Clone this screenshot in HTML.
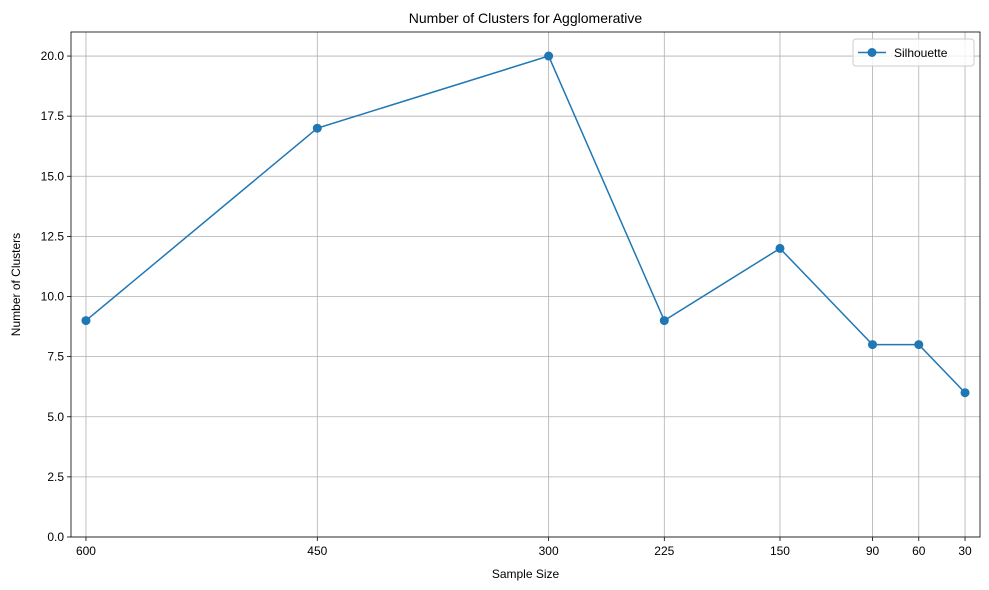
<!DOCTYPE html>
<html><head><meta charset="utf-8">
<style>
html,body{margin:0;padding:0;background:#fff;}
svg{display:block;font-family:"Liberation Sans","DejaVu Sans",sans-serif;}
</style></head>
<body>
<svg id="chart" width="989" height="590"></svg>
<script>
const sampleSizes = [600, 450, 300, 225, 150, 90, 60, 30];
const silhouetteClusters = [9, 17, 20, 9, 12, 8, 8, 6];
const yTicks = [0, 2.5, 5, 7.5, 10, 12.5, 15, 17.5, 20];
const yTickLabels = ["0.0","2.5","5.0","7.5","10.0","12.5","15.0","17.5","20.0"];

const L=71, R=980, T=32, B=537;
const xMin=609.7, xMax=20.3, yMin=0, yMax=21.0;
function sx(v){return L+(v-xMin)/(xMax-xMin)*(R-L);}
function sy(v){return B-(v-yMin)/(yMax-yMin)*(B-T);}
const NS="http://www.w3.org/2000/svg";
const svg=document.getElementById('chart');
function el(tag,attrs,parent){const e=document.createElementNS(NS,tag);for(const k in attrs)e.setAttribute(k,attrs[k]);(parent||svg).appendChild(e);return e;}

// grid
sampleSizes.forEach(v=>{
  const g=el('line',{x1:sx(v),x2:sx(v),y1:T,y2:B,stroke:'#b0b0b0','stroke-width':0.8});
  
  
  const t=el('line',{x1:sx(v),x2:sx(v),y1:B,y2:B+4,stroke:'#000','stroke-width':0.8});
  
  
  const l=el('text',{x:sx(v),y:B+18,'text-anchor':'middle','font-size':12,fill:'#000'});
  l.textContent=v;
  
  
});
yTicks.forEach((v,i)=>{
  const g=el('line',{x1:L,x2:R,y1:sy(v),y2:sy(v),stroke:'#b0b0b0','stroke-width':0.8});
  
  
  const t=el('line',{x1:L-4,x2:L,y1:sy(v),y2:sy(v),stroke:'#000','stroke-width':0.8});
  
  
  const l=el('text',{x:L-7,y:sy(v)+4,'text-anchor':'end','font-size':12,fill:'#000'});
  l.textContent=yTickLabels[i];
  
  
});
// frame
const fr=el('rect',{x:L,y:T,width:R-L,height:B-T,fill:'none',stroke:'#000','stroke-width':0.8});



// series
const pts=sampleSizes.map((v,i)=>sx(v)+','+sy(silhouetteClusters[i])).join(' ');
const line=el('polyline',{points:pts,fill:'none',stroke:'#1f77b4','stroke-width':1.5});


sampleSizes.forEach((v,i)=>{
  const c=el('circle',{cx:sx(v),cy:sy(silhouetteClusters[i]),r:4.5,fill:'#1f77b4'});
  
  
});

// titles
const title=el('text',{x:(L+R)/2,y:23,'text-anchor':'middle','font-size':14,fill:'#000'});
title.textContent='Number of Clusters for Agglomerative';


const xt=el('text',{x:(L+R)/2,y:578,'text-anchor':'middle','font-size':12,fill:'#000'});
xt.textContent='Sample Size';


const yt=el('text',{x:0,y:0,'text-anchor':'middle','font-size':12,fill:'#000',transform:'translate(20,'+((T+B)/2)+') rotate(-90)'});
yt.textContent='Number of Clusters';



// legend
const lg=el('g',{});


el('rect',{x:853,y:39,width:121,height:27,rx:3,fill:'#fff','fill-opacity':0.8,stroke:'#ccc','stroke-width':1},lg);
el('line',{x1:858,x2:886,y1:52.5,y2:52.5,stroke:'#1f77b4','stroke-width':1.5},lg);
el('circle',{cx:872,cy:52.5,r:4.5,fill:'#1f77b4'},lg);
const lt=el('text',{x:894,y:57,'font-size':12,fill:'#000'},lg);
lt.textContent='Silhouette';


</script>
</body></html>
